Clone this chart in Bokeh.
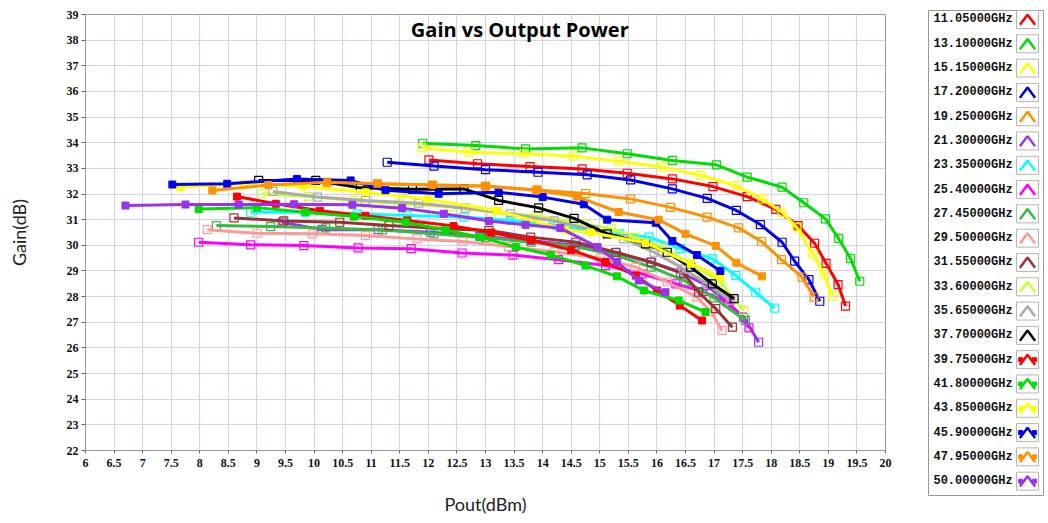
from bokeh.plotting import figure
from bokeh.layouts import row
from bokeh.models import FixedTicker, Range1d, Label
from bokeh.embed import file_html
from bokeh.resources import INLINE
from bokeh.core.properties import value

# ---------------- data ----------------
frequencies = ["11.05000GHz", "13.10000GHz", "15.15000GHz", "17.20000GHz", "19.25000GHz",
               "21.30000GHz", "23.35000GHz", "25.40000GHz", "27.45000GHz", "29.50000GHz",
               "31.55000GHz", "33.60000GHz", "35.65000GHz", "37.70000GHz", "39.75000GHz",
               "41.80000GHz", "43.85000GHz", "45.90000GHz", "47.95000GHz", "50.00000GHz"]
colors = ["#ff0000", "#00dd00", "#ffff00", "#0000ee", "#ff9000",
          "#9933ee", "#00ffff", "#ff00ff", "#33bb44", "#ff9999",
          "#993333", "#ccff33", "#aaaaaa", "#000000", "#ff0000",
          "#00dd00", "#ffff00", "#0000ee", "#ff9000", "#9933ee"]
filled = [False] * 14 + [True] * 6

pout_1105 = [12.01, 12.86, 13.78, 14.69, 15.48, 16.27, 16.98, 17.58, 18.08, 18.47, 18.76, 18.96, 19.17, 19.30]
gain_1105 = [33.33, 33.18, 33.07, 32.98, 32.81, 32.59, 32.29, 31.90, 31.40, 30.77, 30.08, 29.30, 28.47, 27.63]
pout_1310 = [11.90, 12.83, 13.70, 14.69, 15.48, 16.27, 17.04, 17.58, 18.19, 18.57, 18.95, 19.18, 19.39, 19.55]
gain_1310 = [33.98, 33.89, 33.76, 33.80, 33.57, 33.31, 33.14, 32.66, 32.27, 31.66, 31.03, 30.26, 29.48, 28.60]
pout_1515 = [11.89, 12.71, 13.67, 14.52, 15.33, 16.09, 16.76, 17.38, 17.84, 18.19, 18.45, 18.73, 18.92, 19.07]
gain_1515 = [33.80, 33.63, 33.57, 33.48, 33.28, 33.05, 32.74, 32.33, 31.81, 31.29, 30.70, 29.67, 28.89, 28.02]
pout_1720 = [11.28, 12.10, 13.00, 13.92, 14.78, 15.54, 16.27, 16.88, 17.39, 17.81, 18.19, 18.41, 18.66, 18.85]
gain_1720 = [33.24, 33.09, 32.95, 32.85, 32.75, 32.55, 32.20, 31.83, 31.36, 30.81, 30.12, 29.38, 28.66, 27.82]
pout_1925 = [10.23, 11.11, 12.07, 13.00, 13.90, 14.75, 15.54, 16.24, 16.88, 17.43, 17.83, 18.18, 18.54, 18.75]
gain_1925 = [32.46, 32.40, 32.35, 32.31, 32.16, 32.02, 31.81, 31.48, 31.10, 30.68, 30.15, 29.44, 28.76, 27.98]
pout_2130 = [9.44, 10.14, 11.12, 12.04, 12.90, 13.79, 14.55, 15.28, 15.89, 16.41, 16.88, 17.23, 17.52, 17.78]
gain_2130 = [30.90, 30.61, 30.61, 30.51, 30.35, 30.19, 30.00, 29.71, 29.34, 28.95, 28.43, 27.78, 27.20, 26.22]
pout_2335 = [8.89, 9.85, 10.76, 11.63, 12.62, 13.44, 14.26, 14.84, 15.35, 15.86, 16.41, 16.97, 17.38, 17.73, 18.06]
gain_2335 = [31.29, 31.29, 31.23, 31.16, 31.10, 30.97, 30.77, 30.58, 30.45, 30.32, 29.87, 29.48, 28.82, 28.17, 27.55]
pout_2540 = [7.98, 8.89, 9.82, 10.77, 11.70, 12.59, 13.48, 14.28, 15.10, 15.74, 16.33, 16.80, 17.26, 17.61]
gain_2540 = [30.12, 30.02, 29.99, 29.90, 29.87, 29.70, 29.62, 29.44, 29.21, 28.89, 28.50, 28.20, 27.75, 26.78]
pout_2745 = [8.29, 9.24, 10.20, 11.20, 12.10, 13.00, 13.80, 14.58, 15.30, 15.90, 16.50, 17.00, 17.55]
gain_2745 = [30.77, 30.73, 30.68, 30.60, 30.45, 30.30, 30.12, 29.95, 29.60, 29.15, 28.60, 27.95, 27.07]
pout_2950 = [8.13, 9.00, 9.97, 10.90, 11.80, 12.60, 13.40, 14.20, 15.01, 15.63, 16.18, 16.70, 16.95, 17.14]
gain_2950 = [30.61, 30.47, 30.45, 30.38, 30.25, 30.15, 29.95, 29.75, 29.50, 29.15, 28.57, 27.98, 27.40, 26.68]
pout_3155 = [8.60, 9.47, 10.45, 11.31, 12.39, 13.06, 13.79, 14.58, 15.28, 15.90, 16.47, 16.73, 17.03, 17.32]
gain_3155 = [31.07, 30.95, 30.90, 30.77, 30.64, 30.58, 30.32, 30.12, 29.73, 29.35, 28.89, 28.17, 27.53, 26.81]
pout_3360 = [9.09, 9.90, 10.70, 11.50, 12.39, 13.10, 13.90, 14.72, 15.20, 15.60, 16.10, 16.59, 17.10, 17.52]
gain_3360 = [32.01, 31.90, 31.75, 31.62, 31.50, 31.30, 31.14, 30.84, 30.65, 30.32, 29.90, 29.28, 28.60, 27.46]
pout_3565 = [9.28, 10.06, 10.90, 11.83, 12.65, 13.44, 14.20, 14.90, 15.42, 15.95, 16.47, 16.88, 17.29]
gain_3565 = [32.10, 31.88, 31.75, 31.64, 31.45, 31.23, 30.95, 30.60, 30.25, 29.73, 29.08, 28.50, 27.85]
pout_3770 = [9.03, 10.03, 10.81, 11.72, 12.62, 13.23, 13.93, 14.55, 15.13, 15.80, 16.18, 16.59, 16.97, 17.35]
gain_3770 = [32.53, 32.53, 32.24, 32.19, 32.20, 31.75, 31.46, 31.05, 30.45, 30.06, 29.73, 29.15, 28.50, 27.92]
pout_3975 = [8.65, 9.33, 10.10, 10.90, 11.63, 12.44, 13.10, 13.80, 14.50, 15.10, 15.63, 16.00, 16.40, 16.79]
gain_3975 = [31.90, 31.62, 31.35, 31.15, 30.97, 30.75, 30.50, 30.20, 29.82, 29.35, 28.82, 28.24, 27.65, 27.07]
pout_4180 = [7.98, 9.00, 9.85, 10.70, 11.60, 12.30, 12.91, 13.53, 14.14, 14.75, 15.30, 15.77, 16.38, 16.85]
gain_4180 = [31.42, 31.47, 31.29, 31.12, 30.90, 30.60, 30.32, 29.93, 29.63, 29.21, 28.79, 28.24, 27.85, 27.40]
pout_4385 = [7.66, 8.77, 9.80, 10.90, 12.00, 13.20, 14.40, 14.84, 15.80, 16.59, 17.11]
gain_4385 = [32.27, 32.40, 32.30, 32.07, 31.80, 31.35, 30.60, 30.50, 30.10, 29.28, 28.76]
pout_4590 = [7.52, 8.48, 9.70, 10.64, 11.25, 12.18, 13.23, 14.00, 14.72, 15.13, 15.98, 16.27, 16.70, 17.11]
gain_4590 = [32.37, 32.40, 32.59, 32.53, 32.15, 32.01, 32.07, 31.88, 31.60, 31.00, 30.88, 30.17, 29.62, 29.00]
pout_4795 = [8.22, 9.20, 10.23, 11.11, 12.07, 13.00, 13.90, 14.60, 15.33, 16.03, 16.50, 17.03, 17.39, 17.84]
gain_4795 = [32.14, 32.35, 32.46, 32.40, 32.35, 32.30, 32.15, 31.90, 31.30, 31.00, 30.45, 29.98, 29.32, 28.79]
pout_5000 = [6.70, 7.75, 8.68, 9.65, 10.67, 11.54, 12.27, 13.06, 13.70, 14.31, 14.96, 15.30, 15.68, 16.15]
gain_5000 = [31.55, 31.59, 31.59, 31.60, 31.58, 31.45, 31.23, 30.95, 30.80, 30.67, 29.93, 29.35, 28.63, 28.17]

pouts = [pout_1105, pout_1310, pout_1515, pout_1720, pout_1925, pout_2130, pout_2335, pout_2540,
         pout_2745, pout_2950, pout_3155, pout_3360, pout_3565, pout_3770, pout_3975, pout_4180,
         pout_4385, pout_4590, pout_4795, pout_5000]
gains = [gain_1105, gain_1310, gain_1515, gain_1720, gain_1925, gain_2130, gain_2335, gain_2540,
         gain_2745, gain_2950, gain_3155, gain_3360, gain_3565, gain_3770, gain_3975, gain_4180,
         gain_4385, gain_4590, gain_4795, gain_5000]

x_ticks = [6, 6.5, 7, 7.5, 8, 8.5, 9, 9.5, 10, 10.5, 11, 11.5, 12, 12.5, 13, 13.5, 14, 14.5,
           15, 15.5, 16, 16.5, 17, 17.5, 18, 18.5, 19, 19.5, 20]
x_tick_labels = ["6", "6.5", "7", "7.5", "8", "8.5", "9", "9.5", "10", "10.5", "11", "11.5", "12",
                 "12.5", "13", "13.5", "14", "14.5", "15", "15.5", "16", "16.5", "17", "17.5", "18",
                 "18.5", "19", "19.5", "20"]
y_ticks = [22, 23, 24, 25, 26, 27, 28, 29, 30, 31, 32, 33, 34, 35, 36, 37, 38, 39]

title_text = "Gain vs Output Power"
x_label = "Pout(dBm)"
y_label = "Gain(dB)"

# ---------------- main plot ----------------
p = figure(width=905, height=520, x_range=Range1d(6, 20), y_range=Range1d(22, 39),
           toolbar_location=None, output_backend="svg",
           min_border_left=85, min_border_right=20, min_border_top=14, min_border_bottom=70)
p.frame_align = False
p.background_fill_color = "white"
p.outline_line_color = "#999999"

p.xaxis.ticker = FixedTicker(ticks=x_ticks)
p.xaxis.major_label_overrides = {t: l for t, l in zip(x_ticks, x_tick_labels)}
p.yaxis.ticker = FixedTicker(ticks=y_ticks)
p.xgrid.ticker = FixedTicker(ticks=x_ticks)
p.ygrid.ticker = FixedTicker(ticks=y_ticks)
p.grid.grid_line_color = "#d2d2f0"
p.grid.grid_line_width = 1

for ax in (p.xaxis, p.yaxis):
    ax.minor_tick_line_color = None
    ax.axis_line_color = "#999999"
    ax.major_tick_line_color = "#666666"
    ax.major_tick_in = 0
    ax.major_label_text_font = "Liberation Serif"
    ax.major_label_text_font_style = "bold"
    ax.major_label_text_font_size = "12px"
    ax.major_label_text_color = "#111111"
    ax.axis_label_text_font = "Lato"
    ax.axis_label_text_font_style = "normal"
    ax.axis_label_text_font_size = "18px"
    ax.axis_label_text_color = "#222222"
p.yaxis.major_tick_out = 4
p.yaxis.major_label_standoff = 3
p.xaxis.major_tick_out = 3
p.xaxis.major_label_standoff = 5
p.xaxis.axis_label = x_label
p.yaxis.axis_label = y_label
p.yaxis.axis_label_standoff = 34
p.xaxis.axis_label_standoff = 23

for i in range(len(frequencies)):
    c = colors[i]
    p.line(pouts[i], gains[i], line_color=c, line_width=3)
    if filled[i]:
        p.scatter(pouts[i], gains[i], marker="square", size=7, line_color=c, fill_color=c)
    else:
        p.scatter(pouts[i], gains[i], marker="square", size=8, line_color=c, fill_color=None,
                  line_width=1.2)

# title: kept fully visible, just under the top edge of the frame
p.add_layout(Label(x=13.6, y=39.0, y_offset=-1, text=title_text, text_align="center",
                   text_baseline="top", text_font="Open Sans",
                   text_font_style="bold", text_font_size="20px", text_color="#000000"))

# ---------------- legend panel ----------------
idx = list(range(len(frequencies)))
leg = figure(width=143, height=520, x_range=Range1d(0, 1), y_range=Range1d(19.59, -0.37),
             toolbar_location=None, output_backend="svg", x_axis_location=None,
             y_axis_location=None, min_border_left=23, min_border_right=5,
             min_border_top=10, min_border_bottom=25)
leg.frame_align = False
leg.grid.visible = False
leg.outline_line_color = "#999999"
leg.text(x=[0.043] * len(idx), y=idx, text=frequencies, text_font=value("Liberation Mono"),
         text_font_style="bold", text_font_size="12px", text_baseline="middle",
         text_color="#111111")
bx = 0.861
leg.rect(x=[bx] * len(idx), y=idx, width=22, height=18, width_units="screen",
         height_units="screen", fill_color="white", line_color="#b5b5b5")
leg.multi_line(xs=[[bx - 0.066, bx, bx + 0.066] for _ in idx],
               ys=[[i + 0.22, i - 0.2, i + 0.22] for i in idx],
               line_color=colors, line_width=2.5)
fi = [i for i in idx if filled[i]]
leg.scatter(x=[bx - 0.06] * len(fi) + [bx + 0.06] * len(fi), y=fi + fi, marker="square",
            size=4, line_color=[colors[i] for i in fi] * 2, fill_color=[colors[i] for i in fi] * 2)

layout = row(p, leg)
open("out.html", "w").write(file_html(layout, INLINE))
